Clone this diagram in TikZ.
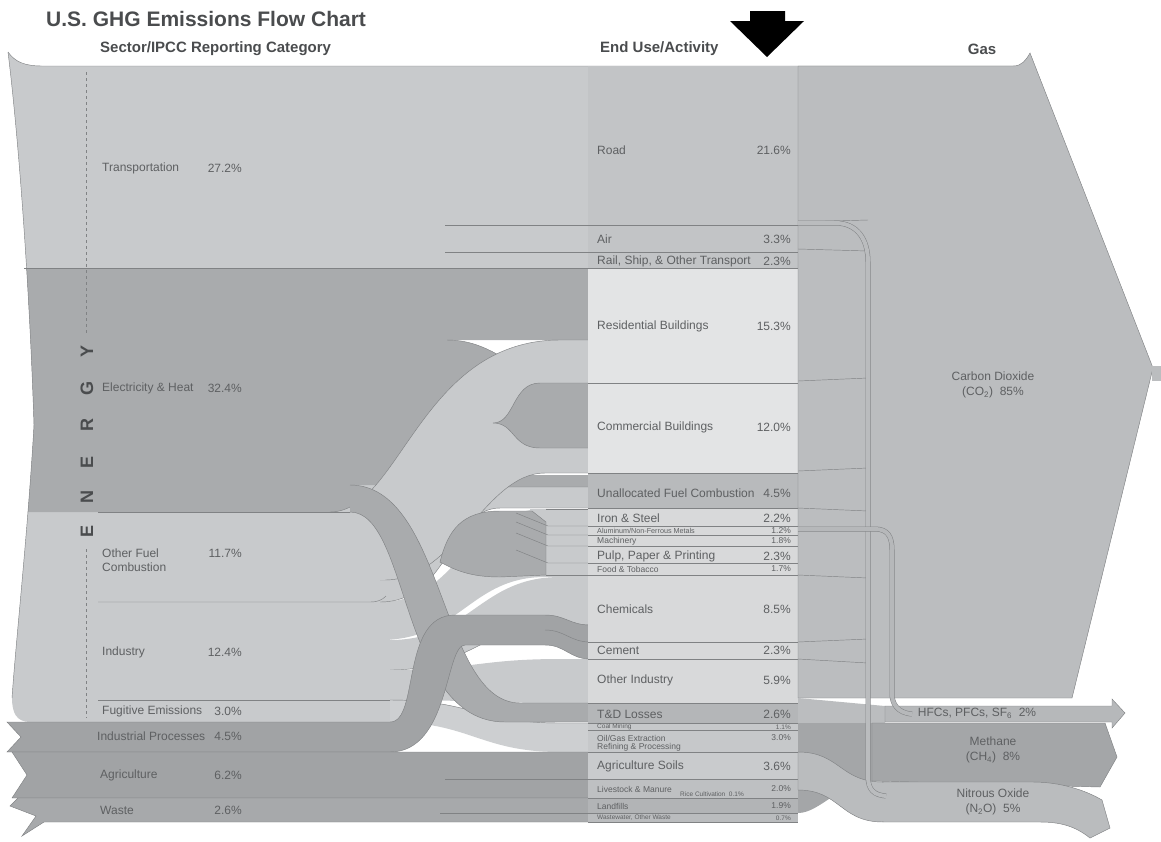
\documentclass[tikz,border=0pt]{standalone}
\usepackage{fontspec}
\setmainfont{Liberation Sans}
\definecolor{cL}{HTML}{C8CACC}
\definecolor{cD}{HTML}{A9ABAD}
\definecolor{cM}{HTML}{A1A3A5}
\definecolor{cW}{HTML}{A7A9AB}
\definecolor{cRoad}{HTML}{C2C4C6}
\definecolor{cBld}{HTML}{E3E4E5}
\definecolor{cInd}{HTML}{D8D9DA}
\definecolor{cUn}{HTML}{B8BABC}
\definecolor{cTD}{HTML}{B4B6B8}
\definecolor{cFug}{HTML}{CDCFD1}
\definecolor{cCoal}{HTML}{C6C8CA}
\definecolor{cSoil}{HTML}{C9CBCD}
\definecolor{cLive}{HTML}{BEC0C2}
\definecolor{cLand}{HTML}{B2B4B6}
\definecolor{cWW}{HTML}{BABCBE}
\definecolor{cCO}{HTML}{BBBDBF}
\definecolor{cCH}{HTML}{A4A6A8}
\definecolor{cNO}{HTML}{BABCBE}
\definecolor{cHF}{HTML}{B6B8BA}
\definecolor{cEdge}{HTML}{808284}
\definecolor{cTxt}{HTML}{5E6062}
\definecolor{cHead}{HTML}{4A4C4E}
\begin{document}
\begin{tikzpicture}[x=1pt,y=-1pt,
 ed/.style={draw=cEdge,line width=0.45pt},
 band/.style={fill=#1,draw=cEdge,line width=0.45pt},
 lab/.style={text=cTxt,inner sep=0pt,font=\fontsize{12}{13}\selectfont},
 labw/.style={lab,anchor=west},
 labe/.style={lab,anchor=east},
 fsmall/.style={font=\fontsize{8.5}{9}\selectfont},
 ftiny/.style={font=\fontsize{6.5}{7}\selectfont},
 hdr/.style={text=cHead,inner sep=0pt,font=\fontsize{15}{17}\bfseries},
 gaslab/.style={text=cTxt,inner sep=0pt,font=\fontsize{12}{15}\selectfont,align=center},
 enletter/.style={text=cHead,inner sep=0pt,rotate=90,font=\fontsize{18}{18}\bfseries},
 dbl/.style={draw=cEdge,line width=0.5pt,double=#1,double distance=4pt},
]
\useasboundingbox (0,0) rectangle (1161,841);

% ---------- left energy blocks (clipped by the left edge) ----------
\begin{scope}
\clip (8,52) .. controls (15,62) and (25,66) .. (42,66) -- (1161,66) -- (1161,722) -- (30,722) .. controls (16,722) and (12,712) .. (12,698) .. controls (16,640) and (28,530) .. (34,425) .. controls (30,300) and (20,150) .. (8,52) -- cycle;
\fill[cL] (0,40) rectangle (590,268);
\fill[cL] (0,268) rectangle (390,722);
\fill[cD] (0,268) -- (590,268) -- (590,340) -- (447,340) -- (447,485) -- (350,485) -- (350,512) -- (0,512) -- cycle;
\end{scope}
\draw[ed] (8,52) .. controls (15,62) and (25,66) .. (42,66) -- (1013,66);
\draw[ed] (12,698) .. controls (16,640) and (28,530) .. (34,425) .. controls (30,300) and (20,150) .. (8,52);

% ---------- electricity to commercial (under fuel band) ----------
\fill[cD] (447,340) .. controls (500,340) and (520,383) .. (570,383) -- (590,383) -- (590,448) -- (570,448) .. controls (520,448) and (500,400) .. (447,400) -- cycle;
\draw[ed] (447,340) .. controls (500,340) and (520,383) .. (570,383) -- (590,383);
% electricity to unallocated (thin)
\fill[cD] (440,468) .. controls (480,468) and (490,475) .. (530,475) -- (590,475) -- (590,487) -- (530,487) .. controls (490,487) and (480,500) .. (440,500) -- cycle;

% ---------- industry bands ----------
\fill[cL] (380,602) .. controls (460,602) and (465,509) .. (545,509) -- (545,577) .. controls (470,577) and (460,640) .. (380,640) -- cycle;
\fill[cL] (390,640) .. controls (470,640) and (480,577) .. (560,577) -- (590,577) -- (590,625) -- (560,625) .. controls (480,625) and (470,670) .. (390,670) -- cycle;
\draw[ed] (390,670) .. controls (470,670) and (480,625) .. (560,625) -- (590,625);
\fill[cL] (390,670) .. controls (470,670) and (480,659) .. (560,659) -- (590,659) -- (590,703) -- (560,703) .. controls (480,703) and (470,700) .. (390,700) -- cycle;

% ---------- other fuel combustion bands ----------
\fill[cL] (380,580) .. controls (440,580) and (440,487) .. (500,487) -- (590,487) -- (590,508) -- (500,508) .. controls (450,508) and (450,602) .. (380,602) -- cycle;
\draw[ed] (380,602) .. controls (450,602) and (450,508) .. (500,508) -- (590,508);
\draw[ed] (380,580) .. controls (440,580) and (440,487) .. (500,487) -- (590,487);
\fill[cL] (330,512) .. controls (400,512) and (420,340) .. (560,340) -- (590,340) -- (590,473) -- (545,473) .. controls (485,473) and (455,580) .. (385,580) -- (330,580) -- cycle;
\draw[ed] (330,512) .. controls (400,512) and (420,340) .. (560,340) -- (590,340);
\draw[ed] (590,473) -- (545,473) .. controls (485,473) and (455,580) .. (385,580);
% electricity wedge to commercial
\path[band=cD] (493,423) .. controls (515,423) and (512,383) .. (540,383) -- (590,383) -- (590,448) -- (540,448) .. controls (512,448) and (515,423) .. (493,423) -- cycle;

% ---------- electricity to industry (blob and fan) ----------
\fill[cL] (530,509) rectangle (590,577);
\path[band=cD] (440,562) .. controls (448,530) and (462,511) .. (500,511) -- (532,511) -- (546,522) -- (546,575) -- (500,577) .. controls (470,577) and (455,570) .. (440,562) -- cycle;
\foreach \yb in {526,535,546,563} \draw[ed] (516,\yb-13) -- (548,\yb) -- (590,\yb);
\draw[ed] (546,509) -- (590,509);
\draw[ed] (546,575) -- (590,575);

% ---------- fugitive emissions ----------
\fill[cFug] (390,700) .. controls (470,700) and (480,723) .. (560,723) -- (590,723) -- (590,752) -- (560,752) .. controls (480,752) and (470,722) .. (390,722) -- cycle;
\draw[ed] (390,700) .. controls (470,700) and (480,723) .. (560,723) -- (590,723);

% ---------- electricity to T&D losses ----------
\fill[cD] (350,485) .. controls (445,485) and (440,703) .. (520,703) -- (590,703) -- (590,722) -- (505,722) .. controls (400,722) and (410,512) .. (350,512) -- cycle;
\draw[ed] (350,485) .. controls (445,485) and (440,703) .. (520,703) -- (590,703);
\draw[ed] (590,722) -- (505,722) .. controls (400,722) and (410,512) .. (350,512);

% ---------- industrial processes ----------
\path[band=cM] (7,722) -- (390,722) .. controls (420,722) and (400,615) .. (455,615) -- (545,615) .. controls (565,615) and (570,625) .. (590,625) -- (590,659) .. controls (570,659) and (565,645) .. (545,645) -- (465,645) .. controls (445,645) and (450,752) .. (390,752) -- (7,752) -- (21,737) -- cycle;
\draw[ed] (545,630) .. controls (565,630) and (570,642) .. (590,642);

% ---------- agriculture and waste ----------
\path[band=cM] (12,752) -- (590,752) -- (590,798) -- (12,798) -- (27,775) -- cycle;
\path[band=cW] (18,798) -- (590,798) -- (590,822) -- (44,822) -- (22,836) -- (36,816) -- (10,806) -- cycle;

% ---------- end-use column ----------
\fill[cRoad] (588,66) rectangle (798,268);
\fill[cBld] (588,268) rectangle (798,473);
\fill[cUn] (588,473) rectangle (798,508);
\fill[cInd] (588,508) rectangle (798,703);
\fill[cTD] (588,703) rectangle (798,723);
\fill[cCoal] (588,723) rectangle (798,752);
\fill[cSoil] (588,752) rectangle (798,779);
\fill[cLive] (588,779) rectangle (798,798);
\fill[cLand] (588,798) rectangle (798,813);
\fill[cWW] (588,813) rectangle (798,822);
\draw[ed] (24,268) -- (798,268);
\draw[ed] (445,225) -- (798,225);
\draw[ed] (445,252) -- (798,252);
\foreach \yb in {383,473,508,526,535,546,563,575,642,659,703,723,730,752,779,798,813,822}
  \draw[ed] (588,\yb) -- (798,\yb);
\draw[ed] (445,779) -- (588,779);
\draw[ed] (440,813) -- (588,813);
\draw[ed] (98,512) -- (350,512);
\draw[ed] (98,602) -- (370,602) .. controls (378,602) and (382,600) .. (386,596);
\draw[ed] (98,700) -- (390,700);

% ---------- gases ----------
\path[band=cCO] (798,66) -- (1013,66) .. controls (1022,66) and (1026,60) .. (1030,53) -- (1153,368) -- (1072,698) -- (798,698) -- cycle;
\fill[cCO] (1152,366) rectangle (1161,381);
\fill[cCO] (798,698) -- (885,706) -- (885,723) -- (798,723) -- cycle;
\fill[cCH] (798,723) -- (872,723) -- (872,781) .. controls (840,782) and (820,813) .. (798,813) -- cycle;
\path[band=cCH] (872,723) -- (1105,723) -- (1117,757) -- (1100,787) -- (872,781) -- cycle;
\path[band=cHF] (885,706) -- (1112,706) -- (1112,699) -- (1125,713) -- (1112,728) -- (1112,722) -- (885,722) -- cycle;
\path[band=cNO] (798,752) .. controls (840,752) and (840,782) .. (883,782) -- (883,822) .. controls (840,822) and (840,790) .. (798,790) -- cycle;
\path[band=cNO] (883,782) -- (1033,782) .. controls (1060,782) and (1085,790) .. (1102,800) -- (1110,828) -- (1090,838) .. controls (1075,826) and (1060,822) .. (1040,822) -- (883,822) -- cycle;
\fill[cNO] (882,783) rectangle (886,821);

% thin flows into gases
\foreach \yb/\ye in {222/220,249/251,381/378,471/468,508/511,575/578,642/639,659/663}
  \draw[ed] (798,\yb) -- (868,\ye);
\draw[dbl=cNO] (798,223) -- (835,223) .. controls (858,223) and (868,240) .. (868,262) -- (868,776) .. controls (868,790) and (874,795) .. (886,796);
\draw[dbl=cHF] (798,529) -- (875,529) .. controls (888,529) and (892,537) .. (892,550) -- (892,694) .. controls (892,703) and (897,713) .. (912,714);

% ---------- title, headers, arrow ----------
\node[anchor=west,inner sep=0pt,text=cHead,font=\fontsize{21}{24}\bfseries] (title) at (46,19) {U.S. GHG Emissions Flow Chart};
\node[hdr,anchor=west] (hSector) at (100,49) {Sector/IPCC Reporting Category};
\node[hdr,anchor=west] (hEnd) at (600,49) {End Use/Activity};
\node[hdr] (hGas) at (982,49) {Gas};
\fill[black] (750,11) -- (785,11) -- (785,21) -- (804,21) -- (767,57) -- (730,21) -- (750,21) -- cycle;

% ---------- ENERGY ----------
\draw[draw=cEdge,line width=0.7pt,dash pattern=on 3pt off 3pt] (86,72) -- (86,333);
\draw[draw=cEdge,line width=0.7pt,dash pattern=on 3pt off 3pt] (86,549) -- (86,718);
\node[enletter] (en1) at (87,531) {E};
\node[enletter] (en2) at (87,497) {N};
\node[enletter] (en3) at (87,462) {E};
\node[enletter] (en4) at (87,425) {R};
\node[enletter] (en5) at (87,388) {G};
\node[enletter] (en6) at (87,351) {Y};

% ---------- sector labels ----------
\node[labw] (sTr) at (102,168) {Transportation};
\node[labe] (pTr) at (242,168) {27.2\%};
\node[labw] (sEl) at (102,388) {Electricity \& Heat};
\node[labe] (pEl) at (242,388) {32.4\%};
\node[labw] (sOf1) at (102,553) {Other Fuel};
\node[labw] (sOf2) at (102,567) {Combustion};
\node[labe] (pOf) at (242,553) {11.7\%};
\node[labw] (sIn) at (102,652) {Industry};
\node[labe] (pIn) at (242,652) {12.4\%};
\node[labw] (sFu) at (102,711) {Fugitive Emissions};
\node[labe] (pFu) at (242,711) {3.0\%};
\node[labw] (sIP) at (97,736) {Industrial Processes};
\node[labe] (pIP) at (242,736) {4.5\%};
\node[labw] (sAg) at (100,775) {Agriculture};
\node[labe] (pAg) at (242,775) {6.2\%};
\node[labw] (sWa) at (100,810) {Waste};
\node[labe] (pWa) at (242,810) {2.6\%};

% ---------- end-use labels ----------
\node[labw] (uRo) at (597,150) {Road};
\node[labe] (qRo) at (791,150) {21.6\%};
\node[labw] (uAi) at (597,239) {Air};
\node[labe] (qAi) at (791,239) {3.3\%};
\node[labw] (uRa) at (597,261) {Rail, Ship, \& Other Transport};
\node[labe] (qRa) at (791,261) {2.3\%};
\node[labw] (uRe) at (597,326) {Residential Buildings};
\node[labe] (qRe) at (791,326) {15.3\%};
\node[labw] (uCo) at (597,427) {Commercial Buildings};
\node[labe] (qCo) at (791,427) {12.0\%};
\node[labw] (uUn) at (597,493) {Unallocated Fuel Combustion};
\node[labe] (qUn) at (791,493) {4.5\%};
\node[labw] (uIr) at (597,518) {Iron \& Steel};
\node[labe] (qIr) at (791,518) {2.2\%};
\node[labw,font=\fontsize{7.2}{8}\selectfont] (uAl) at (597,531) {Aluminum/Non-Ferrous Metals};
\node[labe,fsmall] (qAl) at (791,531) {1.2\%};
\node[labw,fsmall] (uMa) at (597,541) {Machinery};
\node[labe,fsmall] (qMa) at (791,541) {1.8\%};
\node[labw] (uPu) at (597,556) {Pulp, Paper \& Printing};
\node[labe] (qPu) at (791,556) {2.3\%};
\node[labw,fsmall] (uFo) at (597,569) {Food \& Tobacco};
\node[labe,fsmall] (qFo) at (791,569) {1.7\%};
\node[labw] (uCh) at (597,609) {Chemicals};
\node[labe] (qCh) at (791,609) {8.5\%};
\node[labw] (uCe) at (597,650) {Cement};
\node[labe] (qCe) at (791,650) {2.3\%};
\node[labw] (uOi) at (597,680) {Other Industry};
\node[labe] (qOi) at (791,680) {5.9\%};
\node[labw] (uTD) at (597,714) {T\&D Losses};
\node[labe] (qTD) at (791,714) {2.6\%};
\node[labw,ftiny] (uCm) at (597,727) {Coal Mining};
\node[labe,ftiny] (qCm) at (791,727) {1.1\%};
\node[labw,fsmall] (uOg1) at (597,738) {Oil/Gas Extraction};
\node[labw,fsmall] (uOg2) at (597,747) {Refining \& Processing};
\node[labe,fsmall] (qOg) at (791,738) {3.0\%};
\node[labw] (uAs) at (597,766) {Agriculture Soils};
\node[labe] (qAs) at (791,766) {3.6\%};
\node[labw,fsmall] (uLi) at (597,789) {Livestock \& Manure};
\node[labe,fsmall] (qLi) at (791,789) {2.0\%};
\node[labw,ftiny] (uRi) at (680,794) {Rice Cultivation\ \ 0.1\%};
\node[labw,fsmall] (uLa) at (597,806) {Landfills};
\node[labe,fsmall] (qLa) at (791,806) {1.9\%};
\node[labw,ftiny] (uWw) at (597,818) {Wastewater, Other Waste};
\node[labe,ftiny] (qWw) at (791,818) {0.7\%};

% ---------- gas labels ----------
\node[gaslab] (gCO) at (993,385) {Carbon Dioxide\\(CO\textsubscript{2})\ \ 85\%};
\node[gaslab] (gHF) at (977,713) {HFCs, PFCs, SF\textsubscript{6}\ \ 2\%};
\node[gaslab] (gCH) at (993,750) {Methane\\(CH\textsubscript{4})\ \ 8\%};
\node[gaslab] (gNO) at (993,802) {Nitrous Oxide\\(N\textsubscript{2}O)\ \ 5\%};
\end{tikzpicture}
\end{document}
